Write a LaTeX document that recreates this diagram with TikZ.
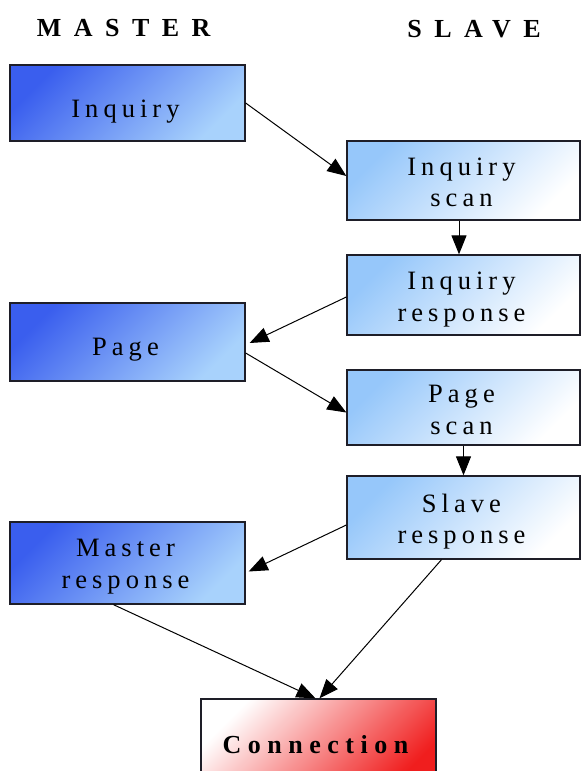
\documentclass[tikz,border=0pt]{standalone}
\usepackage{fontspec}
\setmainfont{Liberation Serif}
\newfontfamily\bodyfont{Liberation Serif}[LetterSpace=19]
\newfontfamily\headfont{Liberation Serif}[LetterSpace=48]
\newfontfamily\connfont{Liberation Serif}[LetterSpace=25]
\usetikzlibrary{arrows.meta}
\definecolor{mdark}{RGB}{58,94,238}
\definecolor{mlight}{RGB}{168,210,252}
\definecolor{slight}{RGB}{150,199,250}
\definecolor{cred}{RGB}{240,30,30}
\definecolor{edgecol}{RGB}{30,30,40}
\begin{document}
\begin{tikzpicture}[x=1pt,y=-1pt,
  box/.style={draw=edgecol, line width=1.3pt, inner sep=0pt},
  mbox/.style={box, minimum width=235pt, top color=mdark, bottom color=mlight, shading angle=45},
  sbox/.style={box, minimum width=233pt, top color=slight, bottom color=white, shading angle=45},
  cbox/.style={box, minimum width=235pt, top color=white, bottom color=cred, shading angle=45},
  lbl/.style={anchor=base, inner sep=0pt, xshift=-2pt, font=\bodyfont\fontsize{26.5}{31}\selectfont},
  head/.style={anchor=base, inner sep=0pt, xshift=-1pt, font=\headfont\bfseries\fontsize{26}{30}\selectfont},
  link/.style={draw, line width=1pt, -{Triangle[length=19pt,width=15pt]}}
]
\useasboundingbox (0,0) rectangle (581,771);

% titles
\node[head] (hm) at (124.7,36.7) {MASTER};
\node[head] (hs) at (475,37) {SLAVE};

% master boxes
\node[mbox, minimum height=76pt] (inq) at (127.5,103) {};
\node[mbox, minimum height=78pt] (page) at (127.5,342) {};
\node[mbox, minimum height=82pt] (mresp) at (127.5,563) {};

% slave boxes
\node[sbox, minimum height=79pt] (iscan) at (463.5,180.5) {};
\node[sbox, minimum height=80pt] (iresp) at (463.5,295) {};
\node[sbox, minimum height=75pt] (pscan) at (463.5,407.5) {};
\node[sbox, minimum height=83pt] (sresp) at (463.5,517.5) {};

% connection
\node[cbox, minimum height=91pt] (cx) at (318.5,744.5) {};

% labels
\node[lbl] (t1) at (127.5,117) {Inquiry};
\node[lbl] (t2) at (127.5,355.7) {Page};
\node[lbl] (t3a) at (127.5,556) {Master};
\node[lbl] (t3b) at (127.5,588) {response};
\node[lbl] (t4a) at (463.5,175.7) {Inquiry};
\node[lbl] (t4b) at (463.5,206.7) {scan};
\node[lbl] (t5a) at (463.5,289.3) {Inquiry};
\node[lbl] (t5b) at (463.5,321) {response};
\node[lbl] (t6a) at (463.5,402.7) {Page};
\node[lbl] (t6b) at (463.5,434.3) {scan};
\node[lbl] (t7a) at (463.5,512) {Slave};
\node[lbl] (t7b) at (463.5,543) {response};
\node[anchor=base, inner sep=0pt, xshift=-3pt, font=\connfont\bfseries\fontsize{26}{30}\selectfont] (t8) at (318.5,753.3) {Connection};

% connectors
\draw[link] (inq.east) -- ([yshift=4.5pt]iscan.west);
\draw[link] ([xshift=-4.5pt]iscan.south) -- ([xshift=-4.5pt]iresp.north);
\draw[link] ([yshift=-2pt]iresp.west) -- ([xshift=4pt,yshift=-1pt]page.east);
\draw[link] ([yshift=-11pt]page.east) -- ([yshift=-5pt]pscan.west);
\draw[link] (pscan.south) -- (sresp.north);
\draw[link] ([yshift=-7.5pt]sresp.west) -- ([xshift=3pt,yshift=-8.5pt]mresp.east);
\draw[link] ([xshift=-14pt]mresp.south) -- ([xshift=-3pt]cx.north);
\draw[link] ([xshift=-22pt]sresp.south) -- ([xshift=1pt]cx.north);
\end{tikzpicture}
\end{document}
